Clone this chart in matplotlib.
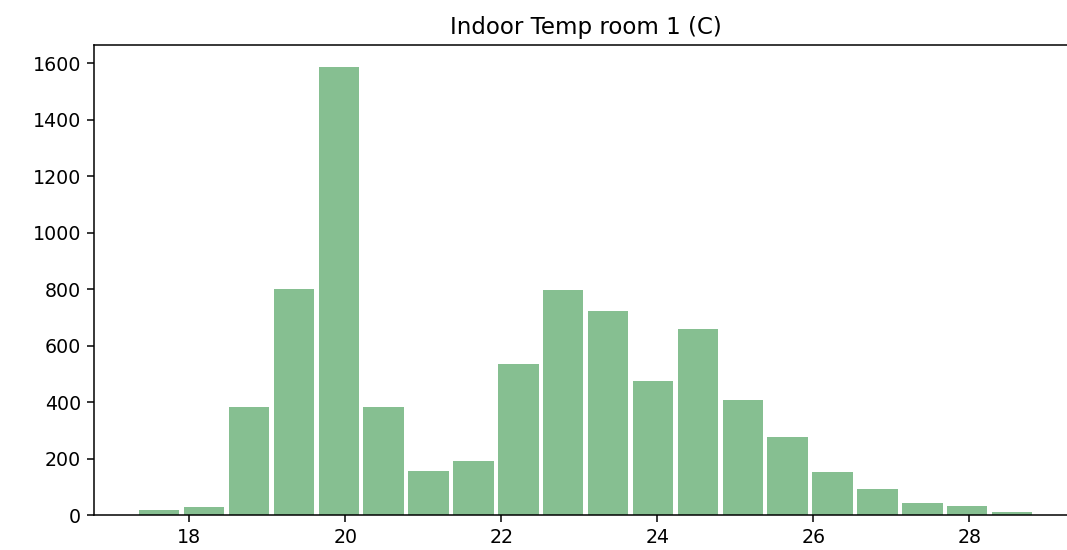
import numpy as np
import matplotlib
matplotlib.use("Agg")
from matplotlib import pyplot as plt

# histogram of room 1 indoor temperature, 20 equal bins
temp_min = 17.327
temp_max = 28.837
counts = [18, 28, 381, 802, 1585, 382, 157, 193, 536, 796,
          724, 476, 657, 408, 278, 154, 91, 44, 33, 12]
title = "Indoor Temp room 1 (C)"
bar_color = "#86bf91"

edges = np.linspace(temp_min, temp_max, len(counts) + 1)
centers = (edges[:-1] + edges[1:]) / 2

fig = plt.figure(figsize=(1067 / 137, 550 / 137), dpi=137)
ax = fig.add_axes([0.0884, 0.0636, 0.921, 0.8546])
ax.hist(centers, bins=edges, weights=counts, rwidth=0.9, color=bar_color)
ax.set_title(title)
ax.spines['right'].set_visible(False)

fig.savefig("out.png", dpi=137)
